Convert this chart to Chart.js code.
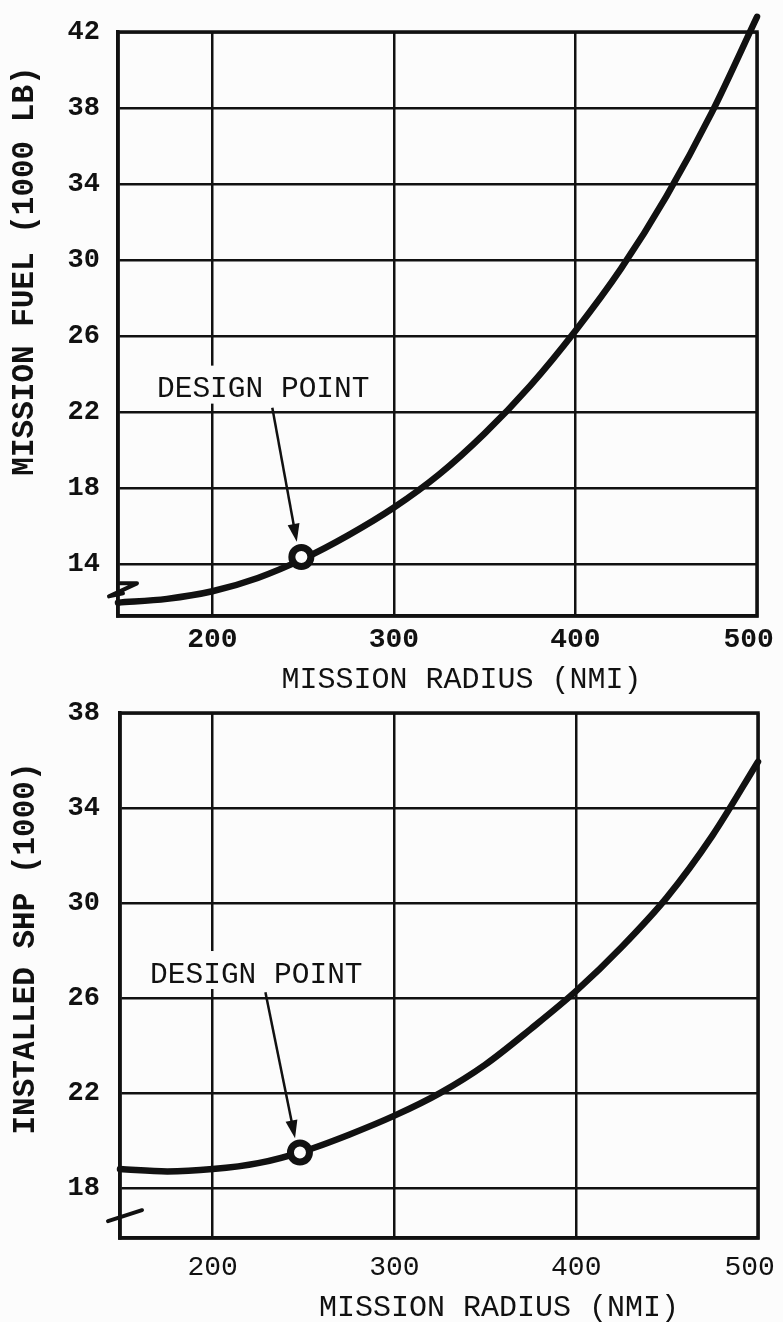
<!DOCTYPE html>
<html>
<head>
<meta charset="utf-8">
<script src="https://cdn.jsdelivr.net/npm/chart.js@4.4.1/dist/chart.umd.min.js"></script>
<style>
  html, body { margin: 0; padding: 0; background: #fcfcfc; }
  body { width: 783px; height: 1322px; position: relative; overflow: hidden; }
  .caja { position: absolute; left: 0; width: 783px; }
  #caja1 { top: 0; height: 700px; }
  #caja2 { top: 680px; height: 642px; }
</style>
</head>
<body>
<div class="caja" id="caja1"><canvas id="grafica1"></canvas></div>
<div class="caja" id="caja2"><canvas id="grafica2"></canvas></div>
<script>
/* Datos */

// eje x: radio de mision (NMI)
let radioTicks = [200, 300, 400, 500];

// grafica superior: combustible de mision (1000 LB)
let radioFuel = [148, 175, 200, 225, 250, 275, 300, 325, 350, 375, 400, 425, 450, 475, 500];
let fuel = [12.0, 12.2, 12.6, 13.3, 14.3, 15.55, 17.0, 18.75, 20.9, 23.4, 26.3, 29.55, 33.35, 37.75, 42.8];
let fuelTicks = [14, 18, 22, 26, 30, 34, 38, 42];
let fuelDiseno = [249, 14.4]; // punto de diseno

// grafica inferior: SHP instalado (1000)
let radioShp = [149, 175, 200, 225, 250, 275, 300, 325, 350, 375, 400, 425, 450, 475, 500];
let shp = [18.8, 18.7, 18.8, 19.05, 19.55, 20.25, 21.05, 22.0, 23.2, 24.7, 26.3, 28.15, 30.25, 32.85, 35.95];
let shpTicks = [18, 22, 26, 30, 34, 38];
let shpDiseno = [248, 19.5]; // punto de diseno

/* Estilo */
const TINTA = '#111111';
const FONDO = '#fcfcfc';
const LETRA = '"Liberation Mono", "DejaVu Sans Mono", monospace';

// Flecha con punta rellena
function dibujarFlecha(ctx, x1, y1, x2, y2) {
    let ang = Math.atan2(y2 - y1, x2 - x1);
    let c = Math.cos(ang), s = Math.sin(ang);
    ctx.lineWidth = 2.5;
    ctx.beginPath();
    ctx.moveTo(x1, y1);
    ctx.lineTo(x2 - 12 * c, y2 - 12 * s);
    ctx.stroke();
    ctx.beginPath();
    ctx.moveTo(x2, y2);
    ctx.lineTo(x2 - 18 * c + 6 * s, y2 - 18 * s - 6 * c);
    ctx.lineTo(x2 - 18 * c - 6 * s, y2 - 18 * s + 6 * c);
    ctx.closePath();
    ctx.fill();
}

// Plugin para texto, flecha, marco, cortes de eje y titulos
const anotaciones = {
    id: 'anotaciones',
    beforeDatasetsDraw(chart, args, op) {
        let ctx = chart.ctx;
        let xs = chart.scales.x, ys = chart.scales.y;
        let cx = xs.getPixelForValue(op.etiqueta[0]);
        let cy = ys.getPixelForValue(op.etiqueta[1]);
        ctx.save();
        ctx.font = '29.5px ' + LETRA;
        let w = ctx.measureText('DESIGN POINT').width;
        // fondo blanco que corta la reticula
        ctx.fillStyle = FONDO;
        ctx.fillRect(cx - w / 2 - 6, cy - 24, w + 12, 38);
        ctx.fillStyle = TINTA;
        ctx.textAlign = 'center';
        ctx.textBaseline = 'middle';
        ctx.fillText('DESIGN POINT', cx, cy);
        ctx.restore();
    },
    afterDatasetsDraw(chart, args, op) {
        let ctx = chart.ctx;
        let xs = chart.scales.x, ys = chart.scales.y;
        let a = chart.chartArea;
        ctx.save();
        ctx.strokeStyle = TINTA;
        ctx.fillStyle = TINTA;

        // marco del area
        ctx.lineWidth = 3.5;
        ctx.strokeRect(a.left, a.top, a.right - a.left, a.bottom - a.top);

        // flecha al punto de diseno
        dibujarFlecha(ctx,
            xs.getPixelForValue(op.flecha[0][0]), ys.getPixelForValue(op.flecha[0][1]),
            xs.getPixelForValue(op.flecha[1][0]), ys.getPixelForValue(op.flecha[1][1]));

        // corte del eje y
        let yc = ys.getPixelForValue(op.corte.valor);
        ctx.lineWidth = 4;
        ctx.lineJoin = 'round';
        ctx.lineCap = 'round';
        ctx.beginPath();
        op.corte.trazo.forEach(function(p, i) {
            if (i === 0) ctx.moveTo(a.left + p[0], yc + p[1]);
            else ctx.lineTo(a.left + p[0], yc + p[1]);
        });
        ctx.stroke();
        ctx.restore();
    },
    afterDraw(chart, args, op) {
        let ctx = chart.ctx;
        let a = chart.chartArea;
        ctx.save();
        ctx.fillStyle = TINTA;
        ctx.textAlign = 'center';
        ctx.textBaseline = 'middle';

        // titulo eje x
        ctx.font = '30px ' + LETRA;
        ctx.fillText(op.tituloX.texto, (a.left + a.right) / 2 + op.tituloX.dx, a.bottom + op.tituloX.dy);

        // titulo eje y (girado)
        ctx.font = 'bold 31px ' + LETRA;
        ctx.translate(op.tituloY.x, (a.top + a.bottom) / 2 + op.tituloY.dy);
        ctx.rotate(-Math.PI / 2);
        ctx.fillText(op.tituloY.texto, 0, 0);
        ctx.restore();
    }
};

function crearGrafica(idCanvas, cfg) {
    let ctx = document.getElementById(idCanvas).getContext('2d');
    let curva = cfg.radios.map(function(r, i) { return { x: r, y: cfg.valores[i] }; });
    return new Chart(ctx, {
        type: 'line',
        data: {
            datasets: [{
                data: [{ x: cfg.diseno[0], y: cfg.diseno[1] }],
                order: 0,
                showLine: false,
                pointRadius: 9.5,
                pointBorderWidth: 7,
                pointBorderColor: TINTA,
                pointBackgroundColor: FONDO,
                clip: false
            }, {
                data: curva,
                order: 1,
                borderColor: TINTA,
                borderWidth: 6.5,
                borderCapStyle: 'round',
                pointRadius: 0,
                fill: false,
                cubicInterpolationMode: 'monotone',
                clip: false
            }]
        },
        options: {
            responsive: true,
            maintainAspectRatio: false,
            animation: false,
            events: [],
            layout: {
                padding: { top: cfg.arriba, right: cfg.derecha, left: 0, bottom: 0 }
            },
            plugins: {
                legend: { display: false },
                tooltip: { enabled: false },
                anotaciones: cfg.anotaciones
            },
            scales: {
                x: {
                    type: 'linear',
                    min: cfg.xMin,
                    max: 500,
                    afterBuildTicks: function(eje) {
                        eje.ticks = radioTicks.map(function(v) { return { value: v }; });
                    },
                    afterFit: function(eje) {
                        eje.height = 84;
                        eje.paddingLeft = 0;
                        eje.paddingRight = 0;
                    },
                    grid: { color: TINTA, lineWidth: 2.5, drawTicks: false },
                    border: { color: TINTA, width: 3.5 },
                    ticks: {
                        color: TINTA,
                        padding: cfg.padX,
                        font: { family: LETRA, size: 28, weight: cfg.pesoX, lineHeight: 1 },
                        // la ultima etiqueta queda algo a la izquierda de su linea
                        callback: function(v) { return v === 500 ? v + ' ' : String(v); }
                    }
                },
                y: {
                    min: cfg.yMin,
                    max: cfg.yMax,
                    afterBuildTicks: function(eje) {
                        eje.ticks = cfg.yTicks.map(function(v) { return { value: v }; });
                    },
                    afterFit: function(eje) {
                        eje.width = cfg.izquierda;
                        eje.paddingTop = 0;
                        eje.paddingBottom = 0;
                    },
                    grid: { color: TINTA, lineWidth: 2.5, drawTicks: false },
                    border: { color: TINTA, width: 3.5 },
                    ticks: {
                        color: TINTA,
                        padding: cfg.izquierda - 100,
                        font: { family: LETRA, size: 27, weight: 'bold', lineHeight: 1 }
                    }
                }
            }
        },
        plugins: [anotaciones]
    });
}

crearGrafica('grafica1', {
    radios: radioFuel,
    valores: fuel,
    diseno: fuelDiseno,
    xMin: 148,
    yMin: 11.3,
    yMax: 42,
    yTicks: fuelTicks,
    arriba: 32,
    derecha: 26,
    izquierda: 118,
    padX: 10,
    pesoX: 'bold',
    anotaciones: {
        etiqueta: [228, 23.2],
        flecha: [[233, 22.25], [246.5, 15.2]],
        corte: { valor: 12.7, trazo: [[2, -6], [19, -6], [-9, 7], [5, 4]] },
        tituloX: { texto: 'MISSION RADIUS (NMI)', dx: 24, dy: 64 },
        tituloY: { texto: 'MISSION FUEL (1000 LB)', x: 25, dy: -53 }
    }
});

crearGrafica('grafica2', {
    radios: radioShp,
    valores: shp,
    diseno: shpDiseno,
    xMin: 149,
    yMin: 15.9,
    yMax: 38,
    yTicks: shpTicks,
    arriba: 33,
    derecha: 25,
    izquierda: 120,
    padX: 16,
    pesoX: 'normal',
    anotaciones: {
        etiqueta: [224, 26.97],
        flecha: [[229, 26.25], [245.3, 20.1]],
        corte: { valor: 16.86, trazo: [[-12, 6], [22, -5]] },
        tituloX: { texto: 'MISSION RADIUS (NMI)', dx: 60, dy: 70 },
        tituloY: { texto: 'INSTALLED SHP (1000)', x: 26, dy: -27 }
    }
});
</script>
</body>
</html>
